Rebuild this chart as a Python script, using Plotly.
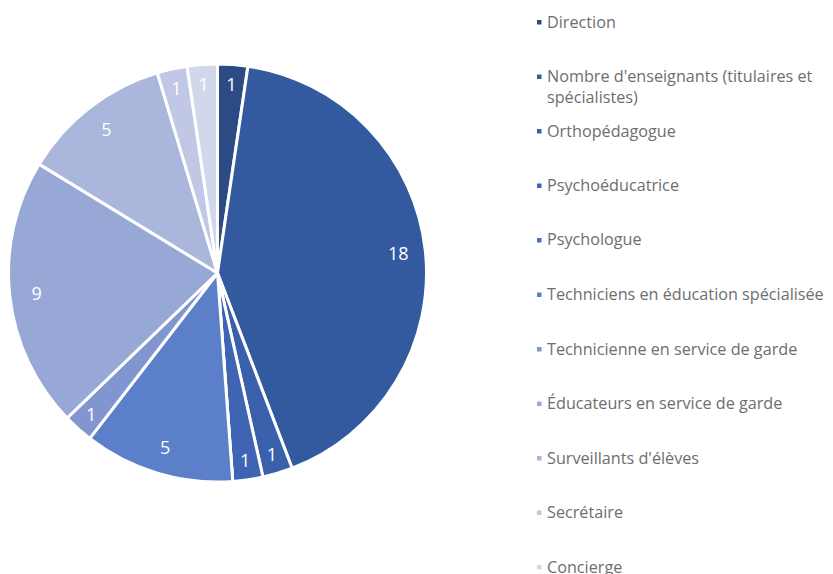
import plotly.graph_objects as go

labels = [
    "Direction",
    "Nombre d'enseignants (titulaires et spécialistes)",
    "Orthopédagogue",
    "Psychoéducatrice",
    "Psychologue",
    "Techniciens en éducation spécialisée",
    "Technicienne en service de garde",
    "Éducateurs en service de garde",
    "Surveillants d'élèves",
    "Secrétaire",
    "Concierge",
]
legend_text = [
    "Direction",
    "Nombre d'enseignants (titulaires et<br>spécialistes)",
    "Orthopédagogue",
    "Psychoéducatrice",
    "Psychologue",
    "Techniciens en éducation spécialisée",
    "Technicienne en service de garde",
    "Éducateurs en service de garde",
    "Surveillants d'élèves",
    "Secrétaire",
    "Concierge",
]
values = [1, 18, 1, 1, 0, 5, 1, 9, 5, 1, 1]
colors = ["#2c4a84", "#335a9f", "#3a5fab", "#3e64b3", "#4a70c0", "#5b7fc9",
          "#8196d0", "#97a8d6", "#aab6dc", "#c0c8e5", "#d2d8ec"]

W, H = 833, 574
OFF = 8  # page body margin
CX, CY, R = 217.5 - OFF, 273 - OFF, 209


def domain(r):
    return dict(x=[(CX - r) / W, (CX + r) / W], y=[1 - (CY + r) / H, 1 - (CY - r) / H])


fig = go.Figure()
fig.add_trace(go.Pie(
    labels=labels, values=values, sort=False, direction="clockwise", rotation=0,
    marker=dict(colors=colors, line=dict(color="white", width=3)),
    textinfo="none", domain=domain(R), showlegend=False, hoverinfo="label+value",
))


def label_ring(texts, r, hole):
    return go.Pie(
        labels=labels, values=values, sort=False, direction="clockwise", rotation=0,
        hole=hole,
        marker=dict(colors=["rgba(0,0,0,0)"] * len(values), line=dict(width=0)),
        text=texts, textinfo="text", textposition="inside",
        insidetextorientation="horizontal",
        textfont=dict(color="white", size=18, family="Open Sans"),
        domain=domain(r), showlegend=False, hoverinfo="skip",
    )


# value labels near the outer edge (transparent rings carrying only text)
fig.add_trace(label_ring([str(v) if v >= 5 else "" for v in values], R, 0.74))
fig.add_trace(label_ring([str(v) if 0 < v < 5 else "" for v in values], 203, 0.85))

# custom legend
y0, dy = 22, 54.5
shapes, annots = [], []
for i, (t, c) in enumerate(zip(legend_text, colors)):
    yc = y0 + i * dy - OFF
    shapes.append(dict(type="rect", xref="paper", yref="paper",
                       x0=(537 - OFF) / W, x1=(541.5 - OFF) / W,
                       y0=1 - (yc + 2.5) / H, y1=1 - (yc - 2) / H,
                       fillcolor=c, line=dict(width=0)))
    annots.append(dict(xref="paper", yref="paper", x=(545 - OFF) / W, y=1 - (yc - 13.5) / H,
                       xanchor="left", yanchor="top", text=t, showarrow=False, align="left",
                       font=dict(family="Open Sans", size=16.2, color="#6e6e6e")))

fig.update_layout(
    width=W, height=H, margin=dict(l=0, r=0, t=0, b=0),
    paper_bgcolor="white", plot_bgcolor="white",
    uniformtext=dict(minsize=18, mode="show"),
    shapes=shapes, annotations=annots,
)
fig.write_html("out.html")
